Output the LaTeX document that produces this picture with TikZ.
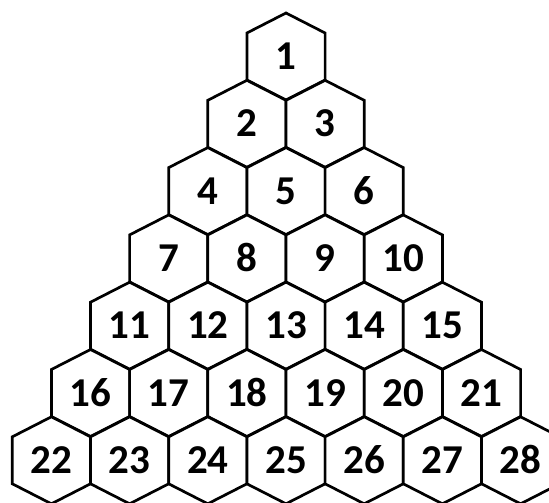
\documentclass[tikz,border=0pt]{standalone}
\usepackage{fontspec}
\setmainfont{Carlito}[BoldFont=*-Bold]
\begin{document}
\begin{tikzpicture}[x=1pt,y=-1pt,
  hexcell/.style={draw=black, line width=2.7pt, line join=miter, fill=white},
  lab/.style={font=\fontsize{41}{41}\selectfont\bfseries, inner sep=0pt, anchor=base}]
\fill[white] (0,0) rectangle (549,503);
\useasboundingbox (0,0) rectangle (549,503);
\clip (0,0) rectangle (549,503);
\foreach \r in {1,...,7} {
  \foreach \k in {1,...,\r} {
    \pgfmathsetmacro\cx{286+(\k-(\r+1)/2)*78.2}
    \pgfmathsetmacro\cy{56.5+(\r-1)*67.3}
    \pgfmathtruncatemacro\n{\r*(\r-1)/2+\k}
    \draw[hexcell] (\cx,\cy-43.5) -- (\cx+39.1,\cy-23.5) -- (\cx+39.1,\cy+23.5)
      -- (\cx,\cy+43.5) -- (\cx-39.1,\cy+23.5) -- (\cx-39.1,\cy-23.5) -- cycle;
    \node[lab] (h\n) at (\cx,\cy+13) {\n};
  }
}
\end{tikzpicture}
\end{document}
